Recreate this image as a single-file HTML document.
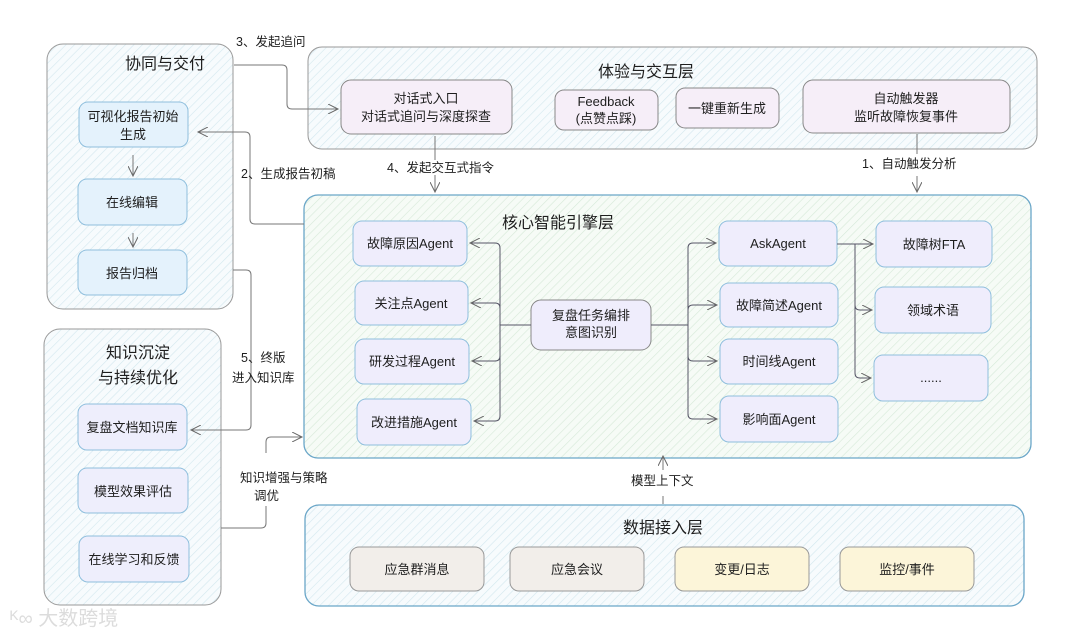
<!DOCTYPE html>
<html><head><meta charset="utf-8"><style>
html,body{margin:0;padding:0;background:#fff;}
svg text{font-family:"Liberation Sans","Noto Sans CJK SC",sans-serif;fill:#1e1e1e;}
</style></head><body>
<svg width="1080" height="637" viewBox="0 0 1080 637" xmlns="http://www.w3.org/2000/svg">
<defs>
<pattern id="hb" width="6" height="6" patternUnits="userSpaceOnUse" patternTransform="rotate(45)">
<rect width="6" height="6" fill="#f7fbfd"/><line x1="0" y1="0" x2="0" y2="6" stroke="#d3e7ee" stroke-width="1.2"/></pattern>
<pattern id="hg" width="6" height="6" patternUnits="userSpaceOnUse" patternTransform="rotate(45)">
<rect width="6" height="6" fill="#f6fbf6"/><line x1="0" y1="0" x2="0" y2="6" stroke="#d6e9d8" stroke-width="1.2"/></pattern>
<marker id="a" markerWidth="12" markerHeight="10" refX="10" refY="5" orient="auto" markerUnits="userSpaceOnUse">
<path d="M0,0 L10,5 L0,10" fill="none" stroke="#666" stroke-width="1"/></marker>
</defs>

<rect x="47" y="44" width="186" height="265" rx="16" fill="url(#hb)" stroke="#999" stroke-width="1"/>
<rect x="44" y="329" width="177" height="276" rx="16" fill="url(#hb)" stroke="#999" stroke-width="1"/>
<rect x="308" y="47" width="729" height="102" rx="14" fill="url(#hb)" stroke="#999" stroke-width="1"/>
<rect x="304" y="195" width="727" height="263" rx="14" fill="url(#hg)" stroke="#6aa6c8" stroke-width="1.3"/>
<rect x="305" y="505" width="719" height="101" rx="14" fill="url(#hb)" stroke="#6aa6c8" stroke-width="1.3"/>

<g font-size="16" text-anchor="middle">
<text x="165" y="69">协同与交付</text>
<text x="138" y="358">知识沉淀</text>
<text x="138" y="383">与持续优化</text>
<text x="646" y="77">体验与交互层</text>
<text x="558" y="228">核心智能引擎层</text>
<text x="663" y="533">数据接入层</text>
</g>

<g stroke-width="1">
<rect x="79" y="102" width="109" height="45" rx="9" fill="#e4f2fc" stroke="#8fbfdd"/>
<rect x="78" y="179" width="109" height="46" rx="9" fill="#e4f2fc" stroke="#8fbfdd"/>
<rect x="78" y="250" width="109" height="45" rx="9" fill="#e4f2fc" stroke="#8fbfdd"/>
<rect x="78" y="404" width="109" height="46" rx="9" fill="#eeeefc" stroke="#8fbfdd"/>
<rect x="78" y="468" width="110" height="45" rx="9" fill="#eeeefc" stroke="#8fbfdd"/>
<rect x="79" y="536" width="110" height="46" rx="9" fill="#eeeefc" stroke="#8fbfdd"/>

<rect x="341" y="80" width="171" height="54" rx="10" fill="#f6eef8" stroke="#888"/>
<rect x="555" y="90" width="103" height="40" rx="9" fill="#f6eef8" stroke="#888"/>
<rect x="676" y="88" width="103" height="40" rx="9" fill="#f6eef8" stroke="#888"/>
<rect x="803" y="80" width="207" height="53" rx="10" fill="#f6eef8" stroke="#888"/>

<rect x="353" y="221" width="114" height="45" rx="9" fill="#efedfc" stroke="#8fbfdd"/>
<rect x="355" y="281" width="113" height="44" rx="9" fill="#efedfc" stroke="#8fbfdd"/>
<rect x="355" y="339" width="114" height="45" rx="9" fill="#efedfc" stroke="#8fbfdd"/>
<rect x="357" y="399" width="114" height="46" rx="9" fill="#efedfc" stroke="#8fbfdd"/>
<rect x="531" y="300" width="120" height="50" rx="10" fill="#efedfc" stroke="#888"/>
<rect x="719" y="221" width="118" height="45" rx="9" fill="#efedfc" stroke="#8fbfdd"/>
<rect x="720" y="283" width="118" height="44" rx="9" fill="#efedfc" stroke="#8fbfdd"/>
<rect x="720" y="339" width="118" height="45" rx="9" fill="#efedfc" stroke="#8fbfdd"/>
<rect x="720" y="396" width="118" height="46" rx="9" fill="#efedfc" stroke="#8fbfdd"/>
<rect x="876" y="221" width="116" height="46" rx="9" fill="#efedfc" stroke="#8fbfdd"/>
<rect x="875" y="287" width="116" height="46" rx="9" fill="#efedfc" stroke="#8fbfdd"/>
<rect x="874" y="355" width="114" height="46" rx="9" fill="#efedfc" stroke="#8fbfdd"/>

<rect x="350" y="547" width="134" height="44" rx="9" fill="#f2eeea" stroke="#999"/>
<rect x="510" y="547" width="134" height="44" rx="9" fill="#f2eeea" stroke="#999"/>
<rect x="675" y="547" width="134" height="44" rx="9" fill="#fcf5d9" stroke="#999"/>
<rect x="840" y="547" width="134" height="44" rx="9" fill="#fcf5d9" stroke="#999"/>
</g>

<g font-size="13" text-anchor="middle">
<text x="133" y="121">可视化报告初始</text><text x="133" y="139">生成</text>
<text x="132" y="207">在线编辑</text>
<text x="132" y="278">报告归档</text>
<text x="132" y="432">复盘文档知识库</text>
<text x="133" y="496">模型效果评估</text>
<text x="134" y="564">在线学习和反馈</text>

<text x="426" y="103">对话式入口</text><text x="426" y="121">对话式追问与深度探查</text>
<text x="606" y="106">Feedback</text><text x="606" y="123">(点赞点踩)</text>
<text x="727" y="113">一键重新生成</text>
<text x="906" y="103">自动触发器</text><text x="906" y="121">监听故障恢复事件</text>

<text x="410" y="248">故障原因Agent</text>
<text x="411" y="308">关注点Agent</text>
<text x="412" y="366">研发过程Agent</text>
<text x="414" y="427">改进措施Agent</text>
<text x="591" y="320">复盘任务编排</text><text x="591" y="337">意图识别</text>
<text x="778" y="248">AskAgent</text>
<text x="779" y="310">故障简述Agent</text>
<text x="779" y="366">时间线Agent</text>
<text x="779" y="424">影响面Agent</text>
<text x="934" y="249">故障树FTA</text>
<text x="933" y="315">领域术语</text>
<text x="931" y="382">......</text>

<text x="417" y="574">应急群消息</text>
<text x="577" y="574">应急会议</text>
<text x="742" y="574">变更/日志</text>
<text x="907" y="574">监控/事件</text>
</g>

<g fill="none" stroke="#777" stroke-width="1">
<line x1="133" y1="155" x2="133" y2="176" marker-end="url(#a)"/>
<line x1="133" y1="233" x2="133" y2="247" marker-end="url(#a)"/>
<path d="M234,65 H282 Q287,65 287,70 V104 Q287,109 292,109 H338" marker-end="url(#a)"/>
<path d="M304,224 H255 Q250,224 250,219 V137 Q250,132 245,132 H198" marker-end="url(#a)"/>
<path d="M435,136 V160"/><path d="M435,175 V192" marker-end="url(#a)"/>
<path d="M917,134 V154"/><path d="M917,176 V192" marker-end="url(#a)"/>
<path d="M233,270 H246 Q251,270 251,275 V425 Q251,430 246,430 H191" marker-end="url(#a)"/>
<path d="M221,528 H261 Q266,528 266,523 V506"/>
<path d="M266,453 V442 Q266,437 271,437 H302" marker-end="url(#a)"/>
<path d="M663,504 V496"/><path d="M663,470 V456" marker-end="url(#a)"/>

<g stroke="#556" stroke-width="1">
<path d="M531,325 H500"/>
<path d="M500,325 V248 Q500,243 495,243 H470" marker-end="url(#a)"/>
<path d="M500,325 V308 Q500,303 495,303 H471" marker-end="url(#a)"/>
<path d="M500,325 V356 Q500,361 495,361 H472" marker-end="url(#a)"/>
<path d="M500,325 V416 Q500,421 495,421 H474" marker-end="url(#a)"/>
<path d="M651,325 H688"/>
<path d="M688,325 V248 Q688,243 693,243 H716" marker-end="url(#a)"/>
<path d="M688,325 V310 Q688,305 693,305 H717" marker-end="url(#a)"/>
<path d="M688,325 V356 Q688,361 693,361 H717" marker-end="url(#a)"/>
<path d="M688,325 V414 Q688,419 693,419 H717" marker-end="url(#a)"/>
<path d="M837,244 H855"/>
<path d="M855,244 H873" marker-end="url(#a)"/>
<path d="M855,244 V305 Q855,310 860,310 H872" marker-end="url(#a)"/>
<path d="M855,244 V373 Q855,378 860,378 H871" marker-end="url(#a)"/>
</g>
</g>

<g font-size="12.5">
<text x="236" y="46">3、发起追问</text>
<text x="241" y="178">2、生成报告初稿</text>
<text x="387" y="172">4、发起交互式指令</text>
<text x="862" y="168">1、自动触发分析</text>
<text x="241" y="362">5、终版</text>
<text x="232" y="382">进入知识库</text>
<text x="240" y="482">知识增强与策略</text>
<text x="254" y="500">调优</text>
<text x="631" y="485">模型上下文</text>
</g>

<text x="10" y="625" font-size="20" style="fill:#dcdcdc">ᴷ∞ 大数跨境</text>
</svg>
</body></html>
